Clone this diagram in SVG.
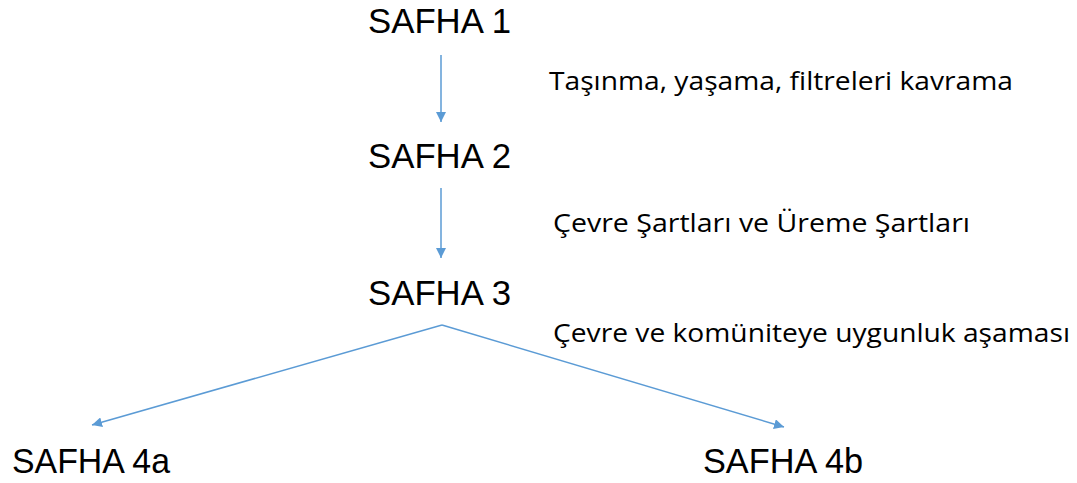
<svg xmlns="http://www.w3.org/2000/svg" width="1077" height="483" viewBox="0 0 1077 483">
<style>
.n{font-family:"Liberation Sans","Open Sans",sans-serif;font-size:35px;fill:#000}
.l{font-family:"Open Sans","Liberation Sans",sans-serif;font-size:25px;fill:#000}
.c{stroke:#5b9bd5;stroke-width:1.5;fill:none;marker-end:url(#ah)}
</style>
<defs>
<marker id="ah" viewBox="0 0 10 10" refX="10" refY="5" markerWidth="10" markerHeight="10" markerUnits="userSpaceOnUse" orient="auto">
<path d="M0,0L10,5L0,10z" fill="#5b9bd5"/>
</marker>
</defs>
<rect width="1077" height="483" fill="#fff"/>
<g id="connectors">
<line class="c" x1="441" y1="55" x2="441" y2="122"/>
<line class="c" x1="441" y1="188" x2="441" y2="258"/>
<polyline class="c" points="442,325 92,425"/>
<polyline class="c" points="442,325 784,427"/>
<text class="l" x="549" y="90" textLength="464" lengthAdjust="spacingAndGlyphs">Taşınma, yaşama, filtreleri kavrama</text>
<text class="l" x="553" y="232" textLength="417" lengthAdjust="spacingAndGlyphs">Çevre Şartları ve Üreme Şartları</text>
<text class="l" x="553" y="342" textLength="517" lengthAdjust="spacingAndGlyphs">Çevre ve komüniteye uygunluk aşaması</text>
</g>
<g id="safha1"><text class="n" x="368" y="33" textLength="143" lengthAdjust="spacingAndGlyphs">SAFHA 1</text></g>
<g id="safha2"><text class="n" x="368" y="168" textLength="143" lengthAdjust="spacingAndGlyphs">SAFHA 2</text></g>
<g id="safha3"><text class="n" x="368" y="305" textLength="143" lengthAdjust="spacingAndGlyphs">SAFHA 3</text></g>
<g id="safha4a"><text class="n" x="12" y="473" textLength="158" lengthAdjust="spacingAndGlyphs">SAFHA 4a</text></g>
<g id="safha4b"><text class="n" x="703" y="473" textLength="160" lengthAdjust="spacingAndGlyphs">SAFHA 4b</text></g>
</svg>
